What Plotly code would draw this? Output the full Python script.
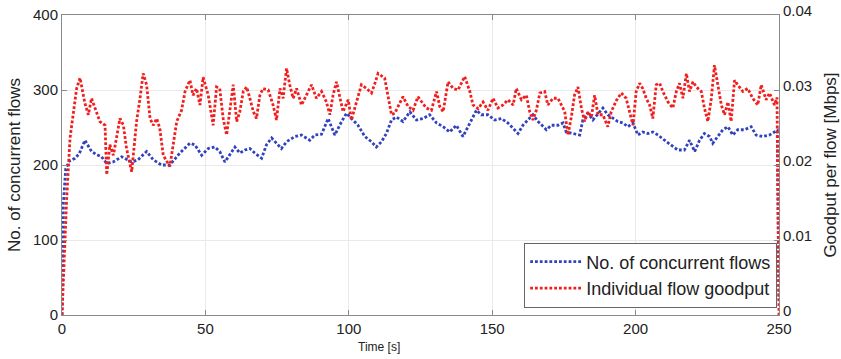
import plotly.graph_objects as go

# ---------------- data ----------------
flow_time = [0, 0.5, 1.3, 2.5, 4.5, 6, 8, 10.3, 12, 13.8, 15.6, 17.8, 20.8, 22.5, 24.3, 26.5,
             29.5, 31.8, 34.7, 37.6, 41.1, 44.6, 46.3, 48.7, 51, 53.3, 55, 56.8, 58.5, 60.3,
             62, 63.8, 65.5, 67.2, 69.6, 71.3, 73.1, 74.8, 76.5, 78.3, 81.2, 83.5, 86.4, 88.2,
             90.5, 92.8, 95.1, 97.5, 99.2, 100.9, 103.2, 105.6, 107.9, 109.6, 111.4, 113.1,
             114.9, 116.6, 118.9, 121.3, 123.6, 125.9, 128.2, 130.6, 132.9, 135.2, 137.5,
             139.8, 142.2, 144.5, 146.2, 148.5, 150.9, 153.2, 155.5, 157.3, 159, 160.7, 162.5,
             164.2, 166, 167.7, 168.9, 170.6, 172.9, 174.7, 175.8, 178.1, 180.5, 181.6, 183.4,
             185.1, 186.9, 188.6, 190.3, 192.1, 193.8, 195.6, 197.3, 199.1, 200.8, 202.5,
             204.3, 206, 207.8, 210.1, 212.4, 214.7, 217, 218.8, 220.6, 222.3, 224, 225.8,
             226.9, 228.7, 230.4, 232.2, 233.9, 235.6, 238, 240.3, 242, 244.3, 246.7, 248.4,
             249.4, 250]
concurrent_flows = [0, 150, 195, 205, 209, 215, 233, 218, 214, 211, 202, 204, 211, 208, 204, 207,
                    218, 207, 200, 200, 216, 229, 227, 213, 222, 224, 218, 204, 213, 224,
                    216, 220, 222, 216, 209, 227, 236, 229, 222, 231, 238, 240, 233, 240,
                    241, 262, 240, 258, 269, 262, 253, 238, 231, 224, 231, 242,
                    260, 264, 258, 271, 260, 262, 267, 256, 251, 244, 253,
                    238, 256, 273, 267, 267, 260, 262, 256, 249, 242, 253, 260,
                    267, 258, 251, 247, 253, 253, 256, 244, 242, 240, 260, 269,
                    260, 269, 276, 267, 262, 258, 256, 251, 256, 240, 244,
                    242, 244, 240, 233, 227, 220, 220, 233, 218, 233, 242, 238,
                    229, 238, 247, 251, 240, 247, 247, 251, 240, 238, 240, 244,
                    246, 20]

goodput_time = [0, 1.6, 2.8, 3.9, 5.1, 6.3, 8, 9.2, 10.3, 11.5, 13.2, 15, 15.6, 16.7, 17.9, 19,
                20.2, 21.4, 22.5, 24.3, 26, 27.2, 28.3, 29.5, 30.7, 31.8, 33, 34.1, 35.3, 37.6,
                38.8, 40, 41.7, 42.9, 44.6, 45.7, 46.9, 48.1, 49.2, 51, 52.7, 53.9, 55, 56.2,
                57.4, 58.5, 59.7, 60.9, 62, 63.2, 64.4, 65.5, 66.7, 67.8, 69, 70.1, 71.9, 73.6,
                74.8, 76, 77.1, 78.3, 79.4, 80.6, 81.8, 83.5, 85.3, 87, 88.7, 90.5, 92.2, 93.4,
                94.5, 95.7, 98, 99.8, 100.9, 102.7, 104.4, 106.2, 107.9, 109.1, 110.2, 112.5,
                113.7, 114.9, 116, 117.8, 118.9, 120.7, 122.4, 124.1, 125.9, 127, 128.8, 130.6,
                131.7, 132.9, 134.6, 136.4, 138.1, 140.4, 142.2, 143.3, 145.1, 146.8, 148.5,
                150.3, 152, 153.8, 155.5, 157.3, 158.4, 160.2, 161.9, 163.1, 164.2, 165.4,
                166.6, 168.3, 169.4, 171.2, 172.9, 174.1, 175.3, 176.4, 177.6, 178.7, 179.9,
                181.1, 182.2, 183.4, 184.6, 185.7, 186.9, 188.6, 190.3, 191.5, 193.3, 195,
                196.7, 197.9, 199.1, 200.2, 201.4, 202.5, 203.7, 204.9, 206, 207.2, 208.4,
                209.5, 211.3, 213, 214.2, 215.3, 216.5, 217.7, 218.8, 220, 221.2, 222.9, 224,
                225.2, 226.4, 227.5, 228.7, 229.9, 231, 232.2, 233.3, 234.5, 235.6, 237.4,
                239.1, 240.8, 242.6, 243.8, 245.5, 246.7, 248.4, 249.3, 250]
goodput = [0, 0.0153, 0.0236, 0.0267, 0.0302, 0.0316, 0.0282, 0.0267, 0.0289, 0.0276, 0.0258,
           0.0253, 0.0187, 0.0227, 0.0213, 0.0236,
           0.0262, 0.0253, 0.0222, 0.0191, 0.0258, 0.0289, 0.0322, 0.0307, 0.0262, 0.0253,
           0.0262, 0.0249, 0.0213, 0.0198,
           0.0227, 0.0258, 0.0273, 0.0298, 0.0313, 0.0293, 0.0302, 0.0280, 0.0317, 0.0293,
           0.0253, 0.0304, 0.0302, 0.0262,
           0.0240, 0.0276, 0.0307, 0.0258, 0.0271, 0.0298, 0.0304, 0.0289, 0.0271, 0.0262,
           0.0293, 0.0302, 0.0300, 0.0280,
           0.0260, 0.0302, 0.0289, 0.0329, 0.0307, 0.0289, 0.0302, 0.0280, 0.0293, 0.0307,
           0.0289, 0.0298, 0.0284, 0.0267,
           0.0293, 0.0311, 0.0271, 0.0287, 0.0260, 0.0284, 0.0307, 0.0302, 0.0296, 0.0309,
           0.0322, 0.0316,
           0.0293, 0.0267, 0.0269, 0.0284, 0.0291, 0.0278, 0.0273, 0.0291, 0.0282, 0.0276,
           0.0273, 0.0298,
           0.0278, 0.0271, 0.0311, 0.0302, 0.0300, 0.0318, 0.0298, 0.0280, 0.0275, 0.0284,
           0.0273,
           0.0289, 0.0276, 0.0280, 0.0287, 0.0280, 0.0302, 0.0287, 0.0293, 0.0271, 0.0260,
           0.0273,
           0.0296, 0.0298, 0.0280, 0.0289, 0.0289, 0.0280, 0.0271, 0.0240, 0.0264, 0.0293,
           0.0304,
           0.0276, 0.0258, 0.0271, 0.0264, 0.0293, 0.0267, 0.0267, 0.0251, 0.0271, 0.0286,
           0.0296,
           0.0289, 0.0271, 0.0253, 0.0298, 0.0309, 0.0302, 0.0289, 0.0280, 0.0262, 0.0307,
           0.0309,
           0.0298, 0.0284, 0.0276, 0.0298, 0.0309, 0.0289, 0.0322, 0.0298, 0.0311, 0.0304,
           0.0298, 0.0276,
           0.0258, 0.0289, 0.0333, 0.0307, 0.0280, 0.0267, 0.0284, 0.0258, 0.0313, 0.0307,
           0.0298,
           0.0302, 0.0289, 0.0280, 0.0307, 0.0287, 0.0296, 0.0280, 0.0290, 0]

x_ticks = [0, 50, 100, 150, 200, 250]
left_ticks = [0, 100, 200, 300, 400]
right_ticks = [0, 0.01, 0.02, 0.03, 0.04]
right_tick_labels = ["0", "0.01", "0.02", "0.03", "0.04"]

assert len(flow_time) == len(concurrent_flows)
assert len(goodput_time) == len(goodput)

# ---------------- figure ----------------
FONT = "Liberation Sans, Arial, sans-serif"
AXIS_COL = "#8a8a8a"
TXT = "#222222"
BLUE = "rgb(48,66,190)"
RED = "rgb(242,30,30)"

fig = go.Figure()
fig.add_trace(go.Scatter(x=flow_time, y=concurrent_flows, mode="lines",
                         name="No. of concurrent flows",
                         line=dict(color=BLUE, width=2.8, dash="2.8px,2px")))
fig.add_trace(go.Scatter(x=goodput_time, y=goodput, mode="lines", yaxis="y2",
                         name="Individual flow goodput",
                         line=dict(color=RED, width=2.8, dash="2.8px,2px")))

fig.update_layout(
    width=841, height=359,
    margin=dict(l=62, r=62, t=15, b=44),
    paper_bgcolor="white", plot_bgcolor="white",
    font=dict(family=FONT, color=TXT, size=15),
    showlegend=True,
    legend=dict(x=0.9975, y=0.025, xanchor="right", yanchor="bottom",
                bgcolor="white", bordercolor="#666666", borderwidth=1,
                font=dict(size=18, family=FONT, color=TXT),
                tracegroupgap=0, itemwidth=51),
    xaxis=dict(range=[0, 250], tickvals=x_ticks, ticks="inside", ticklen=5,
               tickcolor=AXIS_COL, showline=True, linecolor=AXIS_COL, linewidth=1,
               mirror="ticks", showgrid=True, gridcolor="#e9e9e9", gridwidth=1,
               zeroline=False, tickfont=dict(size=15), automargin=False),
    yaxis=dict(range=[0, 400], tickvals=left_ticks, ticks="inside", ticklen=5,
               tickcolor=AXIS_COL, showline=True, linecolor=AXIS_COL, linewidth=1,
               mirror=True, showgrid=True, gridcolor="#e9e9e9", gridwidth=1,
               zeroline=False, tickfont=dict(size=15), automargin=False,
               title=dict(text="No. of concurrent flows", font=dict(size=17), standoff=8)),
    yaxis2=dict(range=[0, 0.04], tickvals=right_ticks, ticktext=right_tick_labels,
                overlaying="y", side="right", ticks="inside", ticklen=5,
                tickcolor=AXIS_COL, showline=True, linecolor=AXIS_COL, linewidth=1,
                showgrid=False, zeroline=False, tickfont=dict(size=15), automargin=False,
                ticklabelshift=-4,
                title=dict(text="Goodput per flow [Mbps]", font=dict(size=17), standoff=12)),
    annotations=[dict(text="Time [s]", xref="paper", yref="paper",
                      x=(379 - 62) / 717, y=-0.105, xanchor="center", yanchor="middle",
                      showarrow=False, font=dict(size=12, family=FONT, color=TXT))],
)

fig.write_html("out.html")
